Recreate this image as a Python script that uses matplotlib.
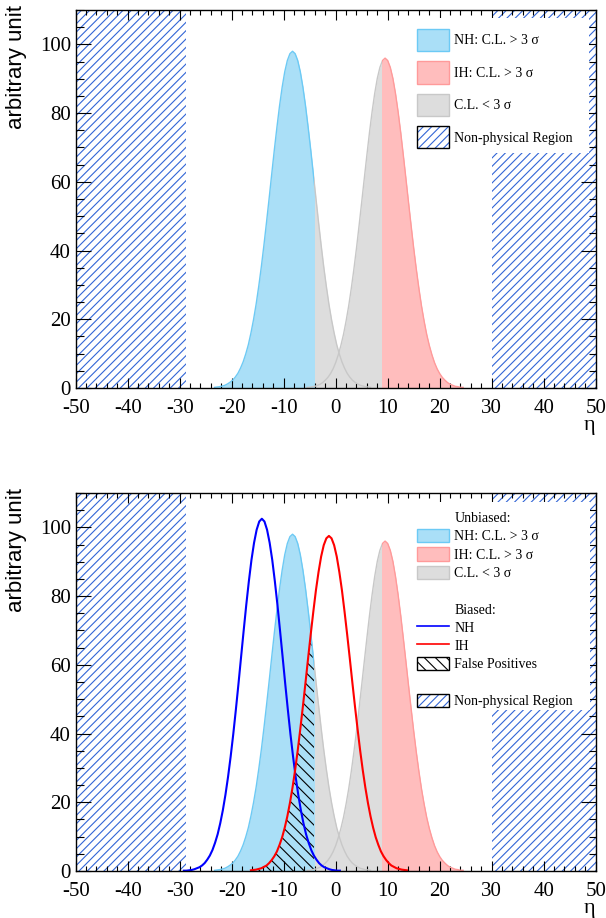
import numpy as np
import matplotlib.pyplot as plt
from matplotlib.patches import Rectangle, Patch
from matplotlib.lines import Line2D
from matplotlib.ticker import MultipleLocator
from matplotlib.legend_handler import HandlerTuple

plt.rcParams['font.family'] = ['Liberation Serif', 'DejaVu Serif']
plt.rcParams['axes.unicode_minus'] = False
plt.rcParams['hatch.linewidth'] = 0.8

# Unbiased NH distribution (0.5 steps)
nh_x = np.linspace(-23.3, 6.7, 61)
nh_y = [0.2, 0.3, 0.4, 0.6, 0.8, 1.2, 1.7, 2.3, 3.2, 4.3, 5.8, 7.6, 9.9, 12.6, 16.0,
        19.9, 24.4, 29.6, 35.3, 41.6, 48.3, 55.2, 62.3, 69.3, 75.9, 82.1, 87.5, 92.0,
        95.3, 97.3, 98.0, 97.3, 95.3, 92.0, 87.5, 82.1, 75.9, 69.3, 62.3, 55.2, 48.3,
        41.6, 35.3, 29.6, 24.4, 19.9, 16.0, 12.6, 9.9, 7.6, 5.8, 4.3, 3.2, 2.3, 1.7,
        1.2, 0.8, 0.6, 0.4, 0.3, 0.2]

# Unbiased IH
ih_x = np.linspace(-5.5, 24.5, 61)
ih_y = [0.2, 0.2, 0.4, 0.5, 0.8, 1.1, 1.6, 2.3, 3.1, 4.2, 5.6, 7.4, 9.7, 12.4, 15.6,
        19.5, 23.9, 29.0, 34.6, 40.7, 47.3, 54.1, 61.0, 67.8, 74.4, 80.4, 85.7, 90.1,
        93.3, 95.3, 96.0, 95.3, 93.3, 90.1, 85.7, 80.4, 74.4, 67.8, 61.0, 54.1, 47.3,
        40.7, 34.6, 29.0, 23.9, 19.5, 15.6, 12.4, 9.7, 7.4, 5.6, 4.2, 3.1, 2.3, 1.6,
        1.1, 0.8, 0.5, 0.4, 0.2, 0.2]

# Biased NH
nhb_x = np.linspace(-29.2, 0.8, 61)
nhb_y = [0.1, 0.1, 0.2, 0.3, 0.5, 0.8, 1.1, 1.6, 2.3, 3.3, 4.5, 6.1, 8.2, 10.7, 13.9,
         17.7, 22.2, 27.4, 33.3, 39.8, 46.9, 54.4, 62.2, 69.9, 77.4, 84.3, 90.5, 95.5,
         99.3, 101.7, 102.5, 101.7, 99.3, 95.5, 90.5, 84.3, 77.4, 69.9, 62.2, 54.4,
         46.9, 39.8, 33.3, 27.4, 22.2, 17.7, 13.9, 10.7, 8.2, 6.1, 4.5, 3.3, 2.3, 1.6,
         1.1, 0.8, 0.5, 0.3, 0.2, 0.1, 0.1]

# Biased IH
ihb_x = np.linspace(-16.3, 13.7, 61)
ihb_y = [0.2, 0.3, 0.4, 0.6, 0.8, 1.2, 1.6, 2.3, 3.2, 4.3, 5.7, 7.6, 9.8, 12.6, 15.9,
         19.8, 24.3, 29.4, 35.1, 41.4, 48.0, 54.9, 62.0, 68.9, 75.5, 81.7, 87.0, 91.5,
         94.8, 96.8, 97.5, 96.8, 94.8, 91.5, 87.0, 81.7, 75.5, 68.9, 62.0, 54.9, 48.0,
         41.4, 35.1, 29.4, 24.3, 19.8, 15.9, 12.6, 9.8, 7.6, 5.7, 4.3, 3.2, 2.3, 1.6,
         1.2, 0.8, 0.6, 0.4, 0.3, 0.2]

# 3 sigma thresholds and non-physical region
nh_cut = -4.1
ih_cut = 8.85
nonphys = [(-50, -28.7), (30.1, 50)]

nh_fill, nh_edge = '#aadff7', '#6ccaf5'
ih_fill, ih_edge = '#ffbdbd', '#ff9a9a'
grey_fill, grey_edge = '#dddddd', '#c8c8c8'
np_color = '#3366d6'


def clip_left(artist, ax, cut):
    artist.set_clip_path(Rectangle((-60, -5), cut + 60, 120, transform=ax.transData))


def clip_right(artist, ax, cut):
    artist.set_clip_path(Rectangle((cut, -5), 60 - cut, 120, transform=ax.transData))


def draw_base(ax):
    for lo, hi in nonphys:
        ax.axvspan(lo, hi, facecolor='none', edgecolor=np_color, hatch='////', linewidth=0)
    # grey everywhere, coloured beyond the 3 sigma cuts
    ax.fill_between(nh_x, nh_y, color=grey_fill, lw=0)
    ax.fill_between(ih_x, ih_y, color=grey_fill, lw=0)
    clip_left(ax.fill_between(nh_x, nh_y, color=nh_fill, lw=0), ax, nh_cut)
    clip_right(ax.fill_between(ih_x, ih_y, color=ih_fill, lw=0), ax, ih_cut)
    # outlines
    l, = ax.plot(nh_x, nh_y, color=nh_edge, lw=1)
    clip_left(l, ax, nh_cut)
    l, = ax.plot(nh_x, nh_y, color=grey_edge, lw=1)
    clip_right(l, ax, nh_cut)
    l, = ax.plot(ih_x, ih_y, color=ih_edge, lw=1)
    clip_right(l, ax, ih_cut)
    l, = ax.plot(ih_x, ih_y, color=grey_edge, lw=1)
    clip_left(l, ax, ih_cut)


def style_axes(ax):
    ax.set_xlim(-50, 50)
    ax.set_ylim(0, 110)
    ax.xaxis.set_major_locator(MultipleLocator(10))
    ax.xaxis.set_minor_locator(MultipleLocator(2))
    ax.yaxis.set_major_locator(MultipleLocator(20))
    ax.yaxis.set_minor_locator(MultipleLocator(5))
    ax.tick_params(which='both', direction='in', top=True, right=True,
                   labelsize=15, width=0.8)
    ax.tick_params(axis='x', which='major', length=7.2, pad=8)
    ax.tick_params(axis='x', which='minor', length=3.6)
    ax.tick_params(axis='y', which='major', length=10.8, pad=3.4)
    ax.tick_params(axis='y', which='minor', length=5.4)
    ax.set_ylabel('arbitrary unit', family='Liberation Sans', fontsize=16, loc='top')
    ax.yaxis.set_label_coords(-0.094, 1.013)
    ax.set_xlabel('η', fontsize=16, loc='right', va='baseline')
    ax.xaxis.set_label_coords(1.0, -0.11)
    for s in ax.spines.values():
        s.set_linewidth(1.0)


def legend_box(ax, x0, y0, x1, y1):
    ax.add_patch(Rectangle((x0, y0), x1 - x0, y1 - y0, transform=ax.transAxes,
                           facecolor='white', edgecolor='none', zorder=4))


np_handle = (Patch(facecolor='none', edgecolor=np_color, hatch='////', lw=0),
             Patch(facecolor='none', edgecolor='black', lw=1))
tuple_map = {tuple: HandlerTuple(ndivide=1, pad=0)}

fig = plt.figure(figsize=(6.06, 9.18), dpi=100)

# ---- top panel
ax = fig.add_axes([0.1249, 0.5773, 0.8581, 0.4118])
draw_base(ax)
style_axes(ax)
legend_box(ax, 0.649, 0.622, 0.987, 0.980)
handles = [Patch(facecolor=nh_fill, edgecolor=nh_edge),
           Patch(facecolor=ih_fill, edgecolor=ih_edge),
           Patch(facecolor=grey_fill, edgecolor=grey_edge),
           np_handle]
labels = ['NH: C.L. > 3 σ', 'IH: C.L. > 3 σ', 'C.L. < 3 σ', 'Non-physical Region']
ax.legend(handles, labels, loc='upper left', bbox_to_anchor=(0.656, 0.950),
          borderaxespad=0, borderpad=0, frameon=False, fontsize=10,
          handlelength=2.3, handleheight=2.1, handletextpad=0.4, labelspacing=0.72,
          handler_map=tuple_map)

# ---- bottom panel
ax = fig.add_axes([0.1249, 0.0512, 0.8581, 0.4118])
draw_base(ax)

# false positives: under the biased IH curve and inside the NH 3 sigma region
nh_lookup = {round(x, 1): y for x, y in zip(nh_x, nh_y)}
fp_x = [x for x in ihb_x if round(x, 1) in nh_lookup]
fp_y = [min(y, nh_lookup[round(x, 1)]) for x, y in zip(ihb_x, ihb_y)
        if round(x, 1) in nh_lookup]
fp = ax.fill_between(fp_x, fp_y, facecolor='none', edgecolor='black',
                     hatch='\\\\\\', lw=0)
clip_left(fp, ax, nh_cut)

ax.plot(nhb_x, nhb_y, color='#0000ff', lw=1.5)
ax.plot(ihb_x, ihb_y, color='#ff0000', lw=1.5)
style_axes(ax)

legend_box(ax, 0.649, 0.426, 0.989, 0.975)
blank = Patch(facecolor='none', edgecolor='none')
handles = [blank,
           Patch(facecolor=nh_fill, edgecolor=nh_edge),
           Patch(facecolor=ih_fill, edgecolor=ih_edge),
           Patch(facecolor=grey_fill, edgecolor=grey_edge),
           blank, blank,
           Line2D([], [], color='#0000ff', lw=1.2),
           Line2D([], [], color='#ff0000', lw=1.2),
           Patch(facecolor='none', edgecolor='black', hatch='\\\\\\', lw=1),
           blank,
           np_handle]
labels = ['Unbiased:', 'NH: C.L. > 3 σ', 'IH: C.L. > 3 σ', 'C.L. < 3 σ', '',
          'Biased:', 'NH', 'IH', 'False Positives', '', 'Non-physical Region']
ax.legend(handles, labels, loc='upper left', bbox_to_anchor=(0.656, 0.953),
          borderaxespad=0, borderpad=0, frameon=False, fontsize=10,
          handlelength=2.3, handleheight=1.1, handletextpad=0.4, labelspacing=0.28,
          handler_map=tuple_map)

fig.savefig('out.png', dpi=100)
